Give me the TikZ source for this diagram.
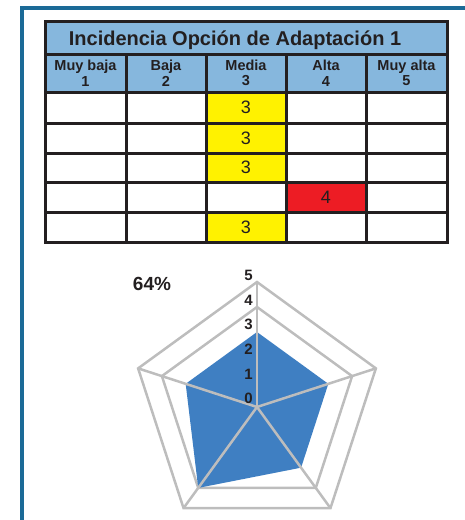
\documentclass[tikz,border=0pt]{standalone}
\usepackage{fontspec}
\setmainfont{Liberation Sans}
\usepackage{xcolor}
\usepackage{tikz}
\definecolor{framebl}{HTML}{1B6A97}
\definecolor{headbl}{HTML}{86B7DD}
\definecolor{inkc}{HTML}{231F20}
\definecolor{cellyel}{HTML}{FFF200}
\definecolor{cellred}{HTML}{ED1C24}
\definecolor{radargr}{HTML}{BDBDBD}
\definecolor{radarbl}{HTML}{3F7FC2}
\tikzset{
    titlebar/.style = {fill=headbl},
    titlenode/.style = {inner sep=0, text=inkc, font=\fontsize{20}{22}\selectfont\bfseries},
    headnode/.style = {fill=headbl, inner sep=0, minimum width=80pt, minimum height=38pt, align=center, text=inkc, font=\fontsize{14.5}{15.5}\selectfont\bfseries},
    cellnodey/.style = {fill=cellyel, inner sep=0, minimum width=80pt, minimum height=30pt, text=inkc, font=\fontsize{18}{20}\selectfont},
    cellnoder/.style = {fill=cellred, inner sep=0, minimum width=80pt, minimum height=30pt, text=inkc, font=\fontsize{18}{20}\selectfont},
}

\begin{document}
\begin{tikzpicture}[
	x=1pt, y=-1pt,
	font=\bfseries
]
\tikzset{
    gridn/.style = {line width=3pt, inkc},
    framen/.style = {line width=4.5pt, framebl},
    ring/.style = {line width=2.5pt, radargr, line join=miter},
    spoke/.style = {line width=2.5pt, radargr},
    axlab/.style = {anchor=east, inner sep=0, text=inkc, font=\fontsize{15}{16}\selectfont\bfseries}
}
\useasboundingbox (0,0) rectangle (465,520);
% frame
\draw[framen] (22,520) -- (22,8) -- (465,8);
% table
\fill[titlebar] (45,21) rectangle (447,54);
\node[titlenode] at (235,40) (title) {Incidencia Opción de Adaptación 1};
\node[headnode] at (85.5,73) (h1) {Muy baja\\1};
\node[headnode] at (166,73) (h2) {Baja\\2};
\node[headnode] at (246,73) (h3) {Media\\3};
\node[headnode] at (326,73) (h4) {Alta\\4};
\node[headnode] at (406.5,73) (h5) {Muy alta\\5};
%
\node[cellnodey] at (246,107.5) (r1) {3};
\node[cellnodey] at (246,138) (r2) {3};
\node[cellnodey] at (246,167.5) (r3) {3};
\node[cellnoder] at (326,197) (r4) {4};
\node[cellnodey] at (246,227) (r5) {3};
%
\draw[gridn] (45,21) rectangle (447,242);
\draw[gridn] (45,54) -- (447,54);
\draw[gridn] (45,92) -- (447,92);
\draw[gridn] (45,123) -- (447,123);
\draw[gridn] (45,153) -- (447,153);
\draw[gridn] (45,182) -- (447,182);
\draw[gridn] (45,212) -- (447,212);
\draw[gridn] (126,54) -- (126,242);
\draw[gridn] (206,54) -- (206,242);
\draw[gridn] (286,54) -- (286,242);
\draw[gridn] (366,54) -- (366,242);
% radar
\node[text=inkc, font=\fontsize{19}{20}\selectfont\bfseries] at (152,284) (pct) {64\%};
\begin{scope}[shift={(257,407)}]
\coordinate (o) at (0,0);
\draw[ring] (-90:125) -- (-18:125) -- (54:125) -- (126:125) -- (198:125) -- cycle;
\draw[ring] (-90:100) -- (-18:100) -- (54:100) -- (126:100) -- (198:100) -- cycle;
\fill[radarbl] (-90:75) -- (-18:75) -- (54:75) -- (126:100) -- (198:75) -- cycle;
\draw[spoke] (o) -- (-90:125);
\draw[spoke] (o) -- (-18:125);
\draw[spoke] (o) -- (54:125);
\draw[spoke] (o) -- (126:125);
\draw[spoke] (o) -- (198:125);
%
\node[axlab] at (-4,-9) (l0) {0};
\node[axlab] at (-4,-33) (l1) {1};
\node[axlab] at (-4,-58) (l2) {2};
\node[axlab] at (-4,-83) (l3) {3};
\node[axlab] at (-4,-107) (l4) {4};
\node[axlab] at (-4,-132) (l5) {5};
\end{scope}
\end{tikzpicture}
\end{document}
